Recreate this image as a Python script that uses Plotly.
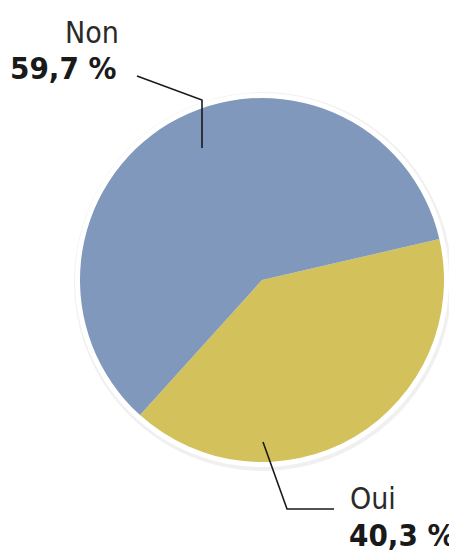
import plotly.graph_objects as go

labels = ["Oui", "Non"]
values = [40.3, 59.7]
colors = ["#d3c25c", "#7f98bb"]
value_text = ["40,3 %", "59,7 %"]

# the page body adds an 8px margin; lay out in window pixels and compensate
OX, OY = 8, 8
W, H = 457 - OX, 553 - OY
cx, cy, r = 262, 280, 182

def px(x):
    return (x - OX) / W

def py(y):
    return 1 - (y - OY) / H

fig = go.Figure()
fig.add_trace(go.Pie(
    labels=labels, values=values, sort=False, direction="clockwise",
    rotation=77, marker=dict(colors=colors, line=dict(width=0)),
    textinfo="none", hoverinfo="label+percent", showlegend=False,
    domain=dict(x=[px(cx - r), px(cx + r)], y=[py(cy + r), py(cy - r)]),
))

shapes = []
# soft shadow and white rim
shapes.append(dict(type="circle", xref="paper", yref="paper", layer="below",
                   x0=px(cx - r - 6), x1=px(cx + r + 8), y0=py(cy + r + 9), y1=py(cy - r - 6),
                   fillcolor="rgba(0,0,0,0.06)", line=dict(width=0)))
shapes.append(dict(type="circle", xref="paper", yref="paper", layer="below",
                   x0=px(cx - r - 5), x1=px(cx + r + 5), y0=py(cy + r + 5), y1=py(cy - r - 5),
                   fillcolor="white", line=dict(width=0)))
# leader lines
shapes.append(dict(type="path", xref="paper", yref="paper",
                   path=f"M {px(137)} {py(76)} L {px(202)} {py(100)} L {px(202)} {py(148)}",
                   line=dict(color="#1a1a1a", width=1.6)))
shapes.append(dict(type="path", xref="paper", yref="paper",
                   path=f"M {px(263)} {py(442)} L {px(287)} {py(509)} L {px(334)} {py(509)}",
                   line=dict(color="#1a1a1a", width=1.6)))

font_n = "Liberation Sans Narrow, DejaVu Sans Condensed, Arial Narrow, sans-serif"
annotations = [
    dict(x=px(121), y=py(32), xref="paper", yref="paper", text=labels[1],
         xanchor="right", yanchor="middle", showarrow=False,
         font=dict(family=font_n, size=30, color="#2a2a2a")),
    dict(x=px(119), y=py(68), xref="paper", yref="paper", text=f"<b>{value_text[1]}</b>",
         xanchor="right", yanchor="middle", showarrow=False,
         font=dict(family=font_n, size=31, color="#1a1a1a")),
    dict(x=px(348), y=py(498), xref="paper", yref="paper", text=labels[0],
         xanchor="left", yanchor="middle", showarrow=False,
         font=dict(family=font_n, size=30, color="#2a2a2a")),
    dict(x=px(347), y=py(535), xref="paper", yref="paper", text=f"<b>{value_text[0]}</b>",
         xanchor="left", yanchor="middle", showarrow=False,
         font=dict(family=font_n, size=31, color="#1a1a1a")),
]

fig.update_layout(width=W, height=H, margin=dict(l=0, r=0, t=0, b=0),
                  paper_bgcolor="white", plot_bgcolor="white",
                  shapes=shapes, annotations=annotations)
fig.write_html("out.html")
